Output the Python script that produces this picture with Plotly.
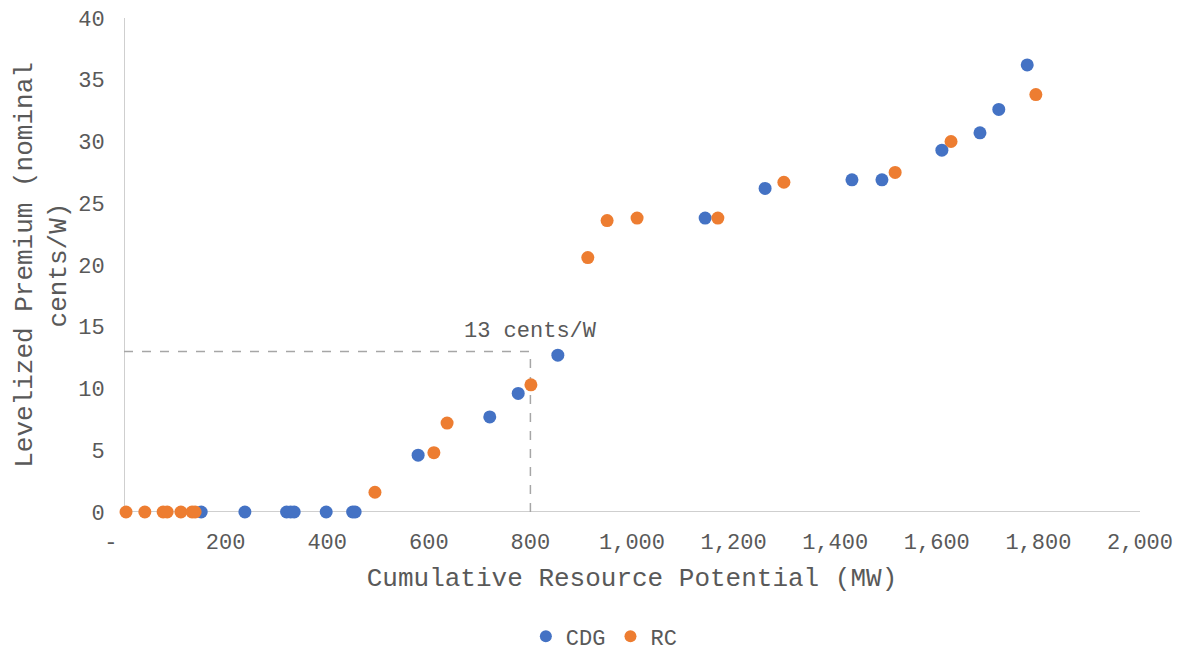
import plotly.graph_objects as go

# Data
cdg_x = [152, 238, 320, 328, 335, 398, 450, 455, 579, 720, 776, 854,
         1144, 1262, 1433, 1492, 1610, 1685, 1722, 1778]
cdg_y = [0, 0, 0, 0, 0, 0, 0, 0, 4.6, 7.7, 9.6, 12.7,
         23.8, 26.2, 26.9, 26.9, 29.3, 30.7, 32.6, 36.2]

rc_x = [4, 41, 77, 85, 112, 134, 140, 494, 610, 636, 801, 913,
        951, 1010, 1169, 1299, 1518, 1628, 1795]
rc_y = [0, 0, 0, 0, 0, 0, 0, 1.6, 4.8, 7.2, 10.3, 20.6,
        23.6, 23.8, 23.8, 26.7, 27.5, 30.0, 33.8]

threshold_mw = 800
threshold_cents = 13

x_tickvals = [0, 200, 400, 600, 800, 1000, 1200, 1400, 1600, 1800, 2000]
x_ticktext = ["-\u00a0\u00a0", "200", "400", "600", "800", "1,000", "1,200",
              "1,400", "1,600", "1,800", "2,000"]
y_tickvals = [0, 5, 10, 15, 20, 25, 30, 35, 40]

FONT = "Courier New, Liberation Mono, monospace"
TXT = "#595959"
GRID = "#BFBFBF"

fig = go.Figure()

# Reference dashed line
fig.add_trace(go.Scatter(
    x=[0, threshold_mw, threshold_mw],
    y=[threshold_cents, threshold_cents, 0],
    mode="lines",
    line=dict(color="#A6A6A6", width=1.5, dash="dash"),
    showlegend=False, hoverinfo="skip",
))

fig.add_trace(go.Scatter(
    x=cdg_x, y=cdg_y, mode="markers", name="CDG",
    marker=dict(color="#4472C4", size=13), cliponaxis=False,
))
fig.add_trace(go.Scatter(
    x=rc_x, y=rc_y, mode="markers", name="RC",
    marker=dict(color="#ED7D31", size=13), cliponaxis=False,
))

fig.add_annotation(
    x=threshold_mw, y=threshold_cents, text=f"{threshold_cents} cents/W",
    showarrow=False, yanchor="bottom", xanchor="center", yshift=5,
    font=dict(family=FONT, size=22, color=TXT),
)

fig.update_layout(
    width=1185, height=654,
    paper_bgcolor="white", plot_bgcolor="white",
    margin=dict(l=124, r=45, t=18, b=142, autoexpand=False),
    font=dict(family=FONT, size=22, color=TXT),
    legend=dict(
        orientation="h", xref="container", x=0.51, xanchor="center",
        yref="paper", y=-0.252, yanchor="middle",
        font=dict(family=FONT, size=22, color=TXT),
        itemsizing="constant", itemwidth=30,
    ),
    xaxis=dict(
        range=[0, 2000], tickvals=x_tickvals, ticktext=x_ticktext,
        showgrid=False, zeroline=False, showline=False,
        ticks="outside", ticklen=10, tickcolor="rgba(0,0,0,0)",
        title=dict(text="Cumulative Resource Potential (MW)",
                   font=dict(family=FONT, size=26, color=TXT), standoff=12),
        tickfont=dict(family=FONT, size=22, color=TXT),
    ),
    yaxis=dict(
        range=[0, 40], tickvals=y_tickvals,
        showgrid=False, zeroline=False, showline=False,
        ticks="outside", ticklen=14, tickcolor="rgba(0,0,0,0)",
        title=dict(text="Levelized Premium (nominal<br>cents/W)",
                   font=dict(family=FONT, size=26, color=TXT), standoff=4),
        tickfont=dict(family=FONT, size=22, color=TXT),
    ),
)

# Axis lines (Excel-style: vertical axis at x=0, horizontal axis at y=0)
fig.add_shape(type="line", xref="x", yref="paper", x0=0, x1=0, y0=0, y1=1,
              line=dict(color=GRID, width=1.5), layer="below")
fig.add_shape(type="line", xref="paper", yref="y", x0=0, x1=1, y0=0, y1=0,
              line=dict(color=GRID, width=1.5), layer="below")

fig.write_html("out.html")
